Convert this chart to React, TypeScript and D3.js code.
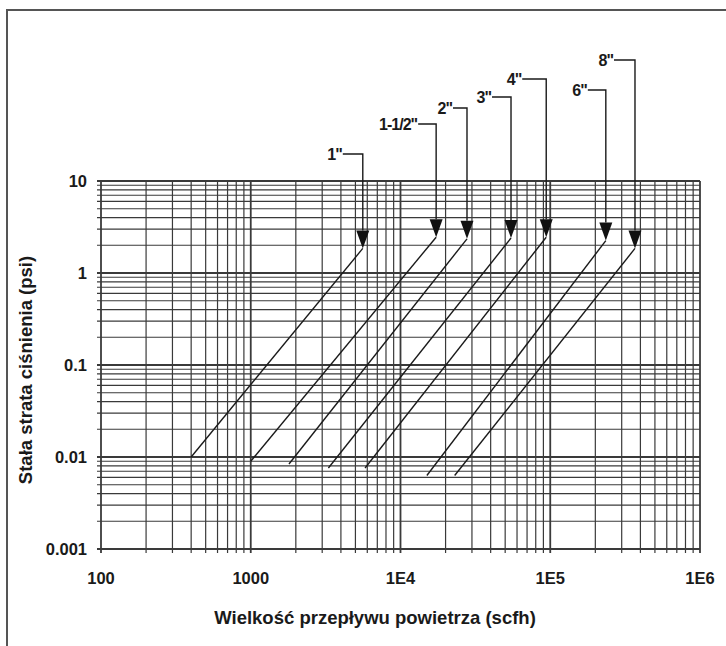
import React, { useEffect, useRef } from 'react';
import * as d3 from 'd3';

const W = 726
const H = 646
const plot = { left: 101, right: 700, top: 181, bottom: 549 }

// pipe sizes and their flow / pressure-drop curves (start + end of each line)
const sizes = ['1"', '1-1/2"', '2"', '3"', '4"', '6"', '8"']
const flowStart = [400, 1000, 1800, 3300, 5800, 15000, 23000]
const psiStart = [0.01, 0.009, 0.0084, 0.0076, 0.0076, 0.0063, 0.0063]
const flowEnd = [5600, 17300, 27800, 54700, 94000, 235000, 368000]
const psiEnd = [1.85, 2.45, 2.35, 2.4, 2.45, 2.25, 1.85]

const xTicks = [100, 1000, 1e4, 1e5, 1e6]
const xTickLabels = ['100', '1000', '1E4', '1E5', '1E6']
const yTicks = [10, 1, 0.1, 0.01, 0.001]
const yTickLabels = ['10', '1', '0.1', '0.01', '0.001']

// label leader layout (px): rise above plot top, horizontal run
const leaderRise = [27, 57, 73, 84, 102, 91, 121]
const leaderRun = [20, 18, 14, 19, 24, 18, 21]

const FONT = '"Liberation Sans", Arial, sans-serif'
const INK = '#1a1a1a'
const GRID = '#3a3a3a'

const App = () => {
  const ref = useRef(null)

  useEffect(() => {
    if (!ref.current) return
    const svg = d3.select(ref.current)
    svg.selectAll('*').remove()

    const x = d3.scaleLog().domain([100, 1e6]).range([plot.left, plot.right])
    const y = d3.scaleLog().domain([0.001, 10]).range([plot.bottom, plot.top])

    // outer frame (top + left edges only, like the scan)
    svg.append('path')
      .attr('d', `M7,${H} L7,10 L${W},10`)
      .attr('fill', 'none')
      .attr('stroke', '#555')
      .attr('stroke-width', 2)

    // grid values 1..9 per decade
    const xGrid = []
    for (let d = 100; d < 1e6; d *= 10) for (let k = 1; k < 10; k++) xGrid.push(d * k)
    xGrid.push(1e6)
    const yGrid = []
    for (let d = 0.001; d < 9; d *= 10) for (let k = 1; k < 10; k++) yGrid.push(+(d * k).toPrecision(3))
    yGrid.push(10)

    const isDecade = v => Math.abs(Math.log10(v) - Math.round(Math.log10(v))) < 1e-6

    const g = svg.append('g')
    g.selectAll('.vgrid')
      .data(xGrid)
      .enter()
      .append('line')
      .attr('x1', d => x(d)).attr('x2', d => x(d))
      .attr('y1', plot.top).attr('y2', plot.bottom + 4)
      .attr('stroke', GRID)
      .attr('stroke-width', d => (isDecade(d) ? 1.8 : 1.2))

    g.selectAll('.hgrid')
      .data(yGrid)
      .enter()
      .append('line')
      .attr('x1', plot.left - 4).attr('x2', plot.right)
      .attr('y1', d => y(d)).attr('y2', d => y(d))
      .attr('stroke', GRID)
      .attr('stroke-width', d => (isDecade(d) ? 1.8 : 1.1))

    // tick labels
    svg.selectAll('.xlab')
      .data(xTicks)
      .enter()
      .append('text')
      .attr('x', d => x(d))
      .attr('y', 584)
      .attr('text-anchor', 'middle')
      .attr('font-family', FONT)
      .attr('font-weight', 'bold')
      .attr('font-size', 16.5)
      .attr('fill', INK)
      .text((d, i) => xTickLabels[i])

    svg.selectAll('.ylab')
      .data(yTicks)
      .enter()
      .append('text')
      .attr('x', 87)
      .attr('y', d => y(d) + 6)
      .attr('text-anchor', 'end')
      .attr('font-family', FONT)
      .attr('font-weight', 'bold')
      .attr('font-size', 16.5)
      .attr('fill', INK)
      .text((d, i) => yTickLabels[i])

    // axis titles
    svg.append('text')
      .attr('x', 375)
      .attr('y', 624)
      .attr('text-anchor', 'middle')
      .attr('font-family', FONT)
      .attr('font-weight', 'bold')
      .attr('font-size', 18.5)
      .attr('fill', INK)
      .text('Wielkość przepływu powietrza (scfh)')

    svg.append('text')
      .attr('transform', `translate(32, 370) rotate(-90)`)
      .attr('text-anchor', 'middle')
      .attr('font-family', FONT)
      .attr('font-weight', 'bold')
      .attr('font-size', 18.5)
      .attr('fill', INK)
      .text('Stała strata ciśnienia (psi)')

    // curves + arrows + leaders
    sizes.forEach((s, i) => {
      const x0 = x(flowStart[i]), y0 = y(psiStart[i])
      const x1 = x(flowEnd[i]), y1 = y(psiEnd[i])
      svg.append('line')
        .attr('x1', x0).attr('y1', y0)
        .attr('x2', x1).attr('y2', y1)
        .attr('stroke', INK)
        .attr('stroke-width', 1.4)

      const aw = 6.5, ah = 18
      svg.append('path')
        .attr('d', `M${x1},${y1} L${x1 - aw},${y1 - ah} L${x1 + aw},${y1 - ah} Z`)
        .attr('fill', '#111')

      const ly = plot.top - leaderRise[i]
      svg.append('path')
        .attr('d', `M${x1 - leaderRun[i]},${ly} L${x1},${ly} L${x1},${y1 - ah}`)
        .attr('fill', 'none')
        .attr('stroke', INK)
        .attr('stroke-width', 1.4)

      svg.append('text')
        .attr('x', x1 - leaderRun[i] - 1)
        .attr('y', ly + 6)
        .attr('text-anchor', 'end')
        .attr('font-family', FONT)
        .attr('font-weight', 'bold')
        .attr('font-size', 16)
        .attr('letter-spacing', -1)
        .attr('fill', INK)
        .text(s)
    })
  }, [])

  return (
    <svg
      ref={ref}
      width={W}
      height={H}
      style={{ position: 'absolute', left: 0, top: 0, background: '#fff' }}
    ></svg>
  )
}

export default App
